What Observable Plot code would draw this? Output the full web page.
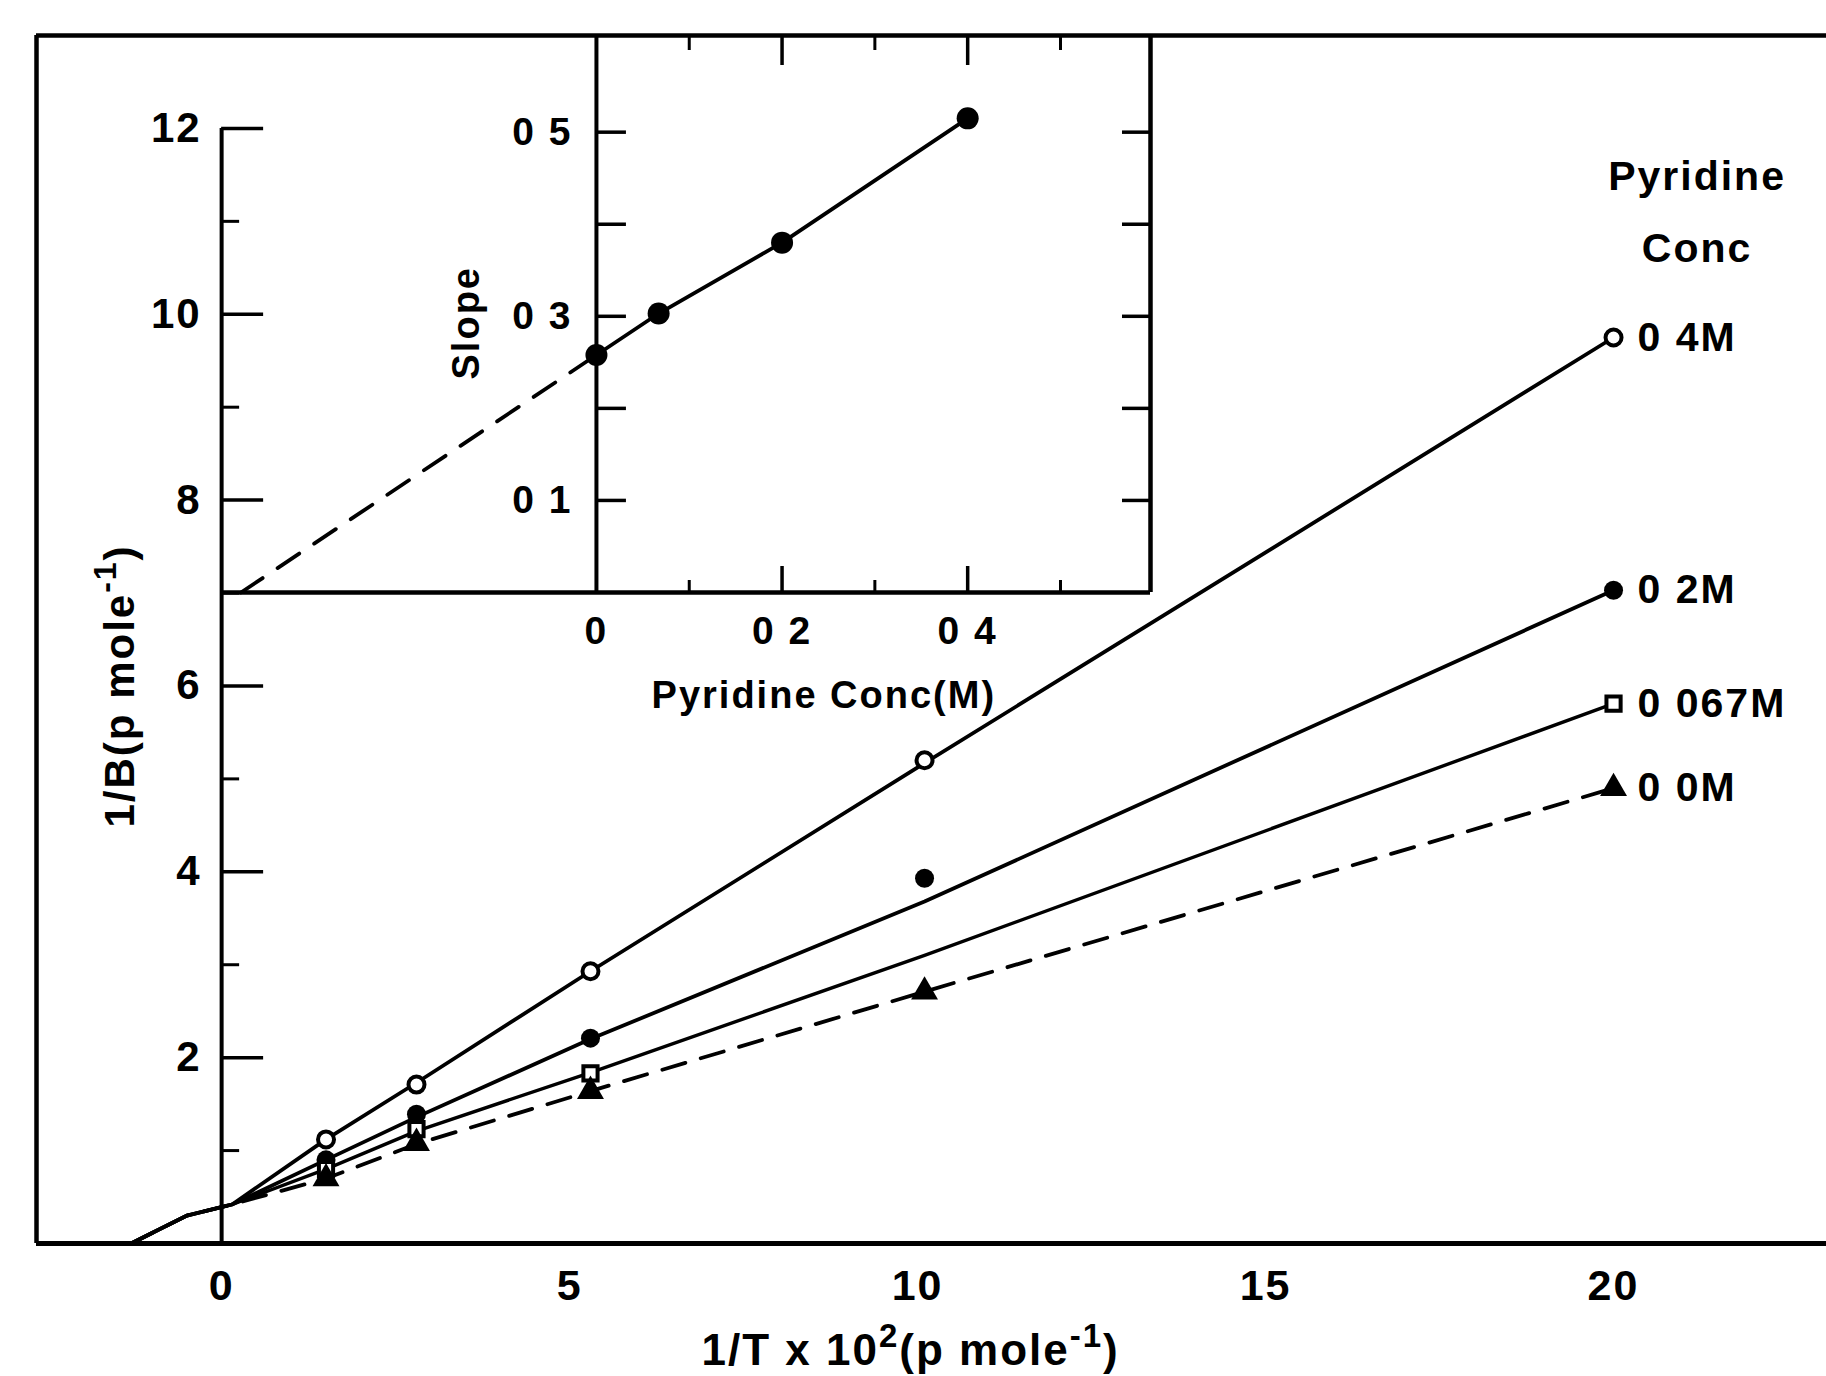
<!DOCTYPE html>
<html>
<head>
<meta charset="utf-8">
<script src="https://cdn.jsdelivr.net/npm/d3@7"></script>
<script src="https://cdn.jsdelivr.net/npm/@observablehq/plot@0.6"></script>
<style>
  html, body { margin: 0; padding: 0; background: #fff; }
  #wrap { position: relative; width: 1826px; height: 1376px; overflow: hidden; background: #fff; }
  #wrap svg { position: absolute; }
  #wrap svg text { font-family: "Liberation Sans", Arial, sans-serif; font-weight: bold; letter-spacing: 2px; fill: #000; }
</style>
</head>
<body>
<div id="wrap"></div>
<script>
// ---------------- main chart data (1/T x 10^2  vs  1/B) ----------------
const invT = [1.5, 2.8, 5.3, 10.1, 20];
const pt04   = [1.12, 1.71, 2.93, 5.20, 9.75];
const pt02   = [0.90, 1.39, 2.21, 3.93, 7.03];
const pt0067 = [0.80, 1.23, 1.83, null, 5.81];
const pt00   = [0.70, 1.08, 1.64, 2.71, 4.90];

// hand-drawn fitted lines (vertices)
const fitX    = [-1.3, -0.9, -0.5, 0.15, 1.5, 2.8, 5.3, 10.1, 20];
const fit04   = [0, 0.15, 0.30, 0.42, 1.12, 1.73, 2.93, 5.17, 9.75];
const fit02   = [0, 0.15, 0.30, 0.42, 0.90, 1.36, 2.20, 3.68, 7.03];
const fit0067 = [0, 0.15, 0.30, 0.42, 0.80, 1.21, 1.84, 3.10, 5.81];
const fit00   = [0, 0.15, 0.30, 0.42, 0.70, 1.07, 1.64, 2.71, 4.90];

const concLabels = ["0 4M", "0 2M", "0 067M", "0 0M"];
const concEnds = [pt04[4], pt02[4], pt0067[4], pt00[4]];
const yMajor = [2, 4, 6, 8, 10, 12];
const yMinor = [1, 3, 5, 7, 9, 11];
const xTicks = [0, 5, 10, 15, 20];

// ---------------- inset data (pyridine conc vs slope) ----------------
const insetConc  = [0, 0.067, 0.2, 0.4];
const insetSlope = [0.258, 0.303, 0.380, 0.515];
const insetExtrapX = [-0.383, 0];
const insetExtrapY = [0, 0.258];
const insetYTicks = [0.1, 0.2, 0.3, 0.4, 0.5];
const insetYLabelVals = [0.1, 0.3, 0.5];
const insetYLabels = ["0 1", "0 3", "0 5"];
const insetXMajor = [0.2, 0.4];
const insetXMinor = [0.1, 0.3, 0.5];
const insetXLabelVals = [0, 0.2, 0.4];
const insetXLabels = ["0", "0 2", "0 4"];

const rows = (xs, ys) => xs.map((x, i) => ({x, y: ys[i]})).filter(d => d.y != null);

// ---------------- main plot ----------------
const W = 1826, H = 1376;
const xDom = [-2.66, 23.06], yDom = [0, 13];
const mL = 36, mR = 0, mT = 35, mB = 133;
const kx = (W - mL - mR) / (xDom[1] - xDom[0]);
const ky = (H - mT - mB) / (yDom[1] - yDom[0]);
const FONT = "Liberation Sans, Arial, sans-serif";

const yTitle = "1/B(p mole⁻¹)";
const xTitle = "1/T x 10²(p mole⁻¹)";

const main = Plot.plot({
  width: W, height: H,
  marginLeft: mL, marginRight: mR, marginTop: mT, marginBottom: mB,
  x: {domain: xDom, axis: null},
  y: {domain: yDom, axis: null},
  style: {background: "transparent", overflow: "visible", fontFamily: FONT},
  marks: [
    Plot.ruleX([xDom[0]], {strokeWidth: 4.5}),
    Plot.ruleY([yDom[1]], {strokeWidth: 4.5}),
    Plot.ruleY([0], {strokeWidth: 5}),
    Plot.ruleX([0], {y1: 0, y2: 12, strokeWidth: 4}),
    Plot.ruleY(yMajor, {x1: 0, x2: 42 / kx, strokeWidth: 3.5}),
    Plot.ruleY(yMinor, {x1: 0, x2: 18 / kx, strokeWidth: 3}),
    Plot.text(yMajor, {x: 0, y: d => d, text: d => String(d), textAnchor: "end", dx: -20, fontSize: 42}),
    Plot.text(xTicks, {x: d => d, y: 0, text: d => String(d), dy: 43, fontSize: 43}),

    Plot.line(rows(fitX, fit04), {x: "x", y: "y", strokeWidth: 3.8}),
    Plot.line(rows(fitX, fit02), {x: "x", y: "y", strokeWidth: 3.8}),
    Plot.line(rows(fitX, fit0067), {x: "x", y: "y", strokeWidth: 3.4}),
    Plot.line(rows(fitX, fit00), {x: "x", y: "y", strokeWidth: 3.8, strokeDasharray: "24,16"}),

    Plot.dot(rows(invT, pt04), {x: "x", y: "y", r: 8, fill: "white", stroke: "black", strokeWidth: 4}),
    Plot.dot(rows(invT, pt02), {x: "x", y: "y", r: 9.5, fill: "black"}),
    Plot.dot(rows(invT, pt0067), {x: "x", y: "y", symbol: "square", r: 8, fill: "white", stroke: "black", strokeWidth: 4}),
    Plot.dot(rows(invT, pt00), {x: "x", y: "y", symbol: "triangle", r: 10, fill: "black"}),

    Plot.text(concLabels, {x: 20, y: (d, i) => concEnds[i], text: d => d, textAnchor: "start", dx: 24, fontSize: 41}),
    Plot.text(["Pyridine\nConc"], {x: 21.2, y: 10.56, lineAnchor: "bottom", lineHeight: 1.75, fontSize: 41}),

    Plot.text([yTitle], {x: -1.45, y: 6.0, rotate: -90, text: d => d, fontSize: 42}),
    Plot.text([xTitle], {x: 9.9, y: 0, dy: 107, text: d => d, fontSize: 44})
  ]
});

// ---------------- inset plot ----------------
const ixDom = [-0.404, 0.597], iyDom = [0, 0.605];
const iW = 929, iPlotH = 557, iMB = 140;
const ikx = iW / (ixDom[1] - ixDom[0]);
const iky = iPlotH / (iyDom[1] - iyDom[0]);

const inset = Plot.plot({
  width: iW, height: iPlotH + iMB,
  marginLeft: 0, marginRight: 0, marginTop: 0, marginBottom: iMB,
  x: {domain: ixDom, axis: null},
  y: {domain: iyDom, axis: null},
  style: {background: "transparent", overflow: "visible", fontFamily: FONT},
  marks: [
    Plot.ruleX([ixDom[1]], {strokeWidth: 4.5}),
    Plot.ruleY([0], {strokeWidth: 4.5}),
    Plot.ruleX([0], {strokeWidth: 4}),
    Plot.ruleY(insetYTicks, {x1: 0, x2: 30 / ikx, strokeWidth: 3.5}),
    Plot.ruleY(insetYTicks, {x1: ixDom[1] - 28 / ikx, x2: ixDom[1], strokeWidth: 3.5}),
    Plot.ruleX(insetXMajor, {y1: iyDom[1], y2: iyDom[1] - 30 / iky, strokeWidth: 3.5}),
    Plot.ruleX(insetXMinor, {y1: iyDom[1], y2: iyDom[1] - 15 / iky, strokeWidth: 3}),
    Plot.ruleX(insetXMajor, {y1: 0, y2: 26 / iky, strokeWidth: 3.5}),
    Plot.ruleX(insetXMinor, {y1: 0, y2: 12 / iky, strokeWidth: 3}),
    Plot.text(insetYLabels, {x: 0, y: (d, i) => insetYLabelVals[i], text: d => d, textAnchor: "end", dx: -24, fontSize: 39}),
    Plot.text(insetXLabels, {x: (d, i) => insetXLabelVals[i], y: 0, text: d => d, dy: 39, fontSize: 39}),
    Plot.text(["Pyridine Conc(M)"], {x: 0.245, y: 0, dy: 103, text: d => d, fontSize: 38}),
    Plot.text(["Slope"], {x: -0.14, y: 0.293, rotate: -90, text: d => d, fontSize: 38}),
    Plot.line(rows(insetExtrapX, insetExtrapY), {x: "x", y: "y", strokeWidth: 3.8, strokeDasharray: "26,18"}),
    Plot.line(rows(insetConc, insetSlope), {x: "x", y: "y", strokeWidth: 3.8}),
    Plot.dot(rows(insetConc, insetSlope), {x: "x", y: "y", r: 11, fill: "black"})
  ]
});

const wrap = document.getElementById("wrap");
main.style.left = "0px"; main.style.top = "0px";
inset.style.left = "221px"; inset.style.top = "35px";
wrap.append(main);
wrap.append(inset);

// superscripts for the axis titles
function superscript(svg, full, parts, fs) {
  d3.select(svg).selectAll("text").filter(function() { return this.textContent === full; }).each(function() {
    const t = d3.select(this);
    t.text(null);
    const shift = Math.round(fs * 0.42);
    let up = false;
    parts.forEach(([s, sup]) => {
      const ts = t.append("tspan").text(s);
      if (sup && !up) { ts.attr("dy", -shift).attr("font-size", Math.round(fs * 0.75)); up = true; }
      else if (sup) { ts.attr("font-size", Math.round(fs * 0.75)); }
      else if (!sup && up) { ts.attr("dy", shift); up = false; }
    });
  });
}
superscript(main, xTitle, [["1/T x 10", false], ["2", true], ["(p mole", false], ["-1", true], [")", false]], 44);
superscript(main, yTitle, [["1/B(p mole", false], ["-1", true], [")", false]], 42);
</script>
</body>
</html>
